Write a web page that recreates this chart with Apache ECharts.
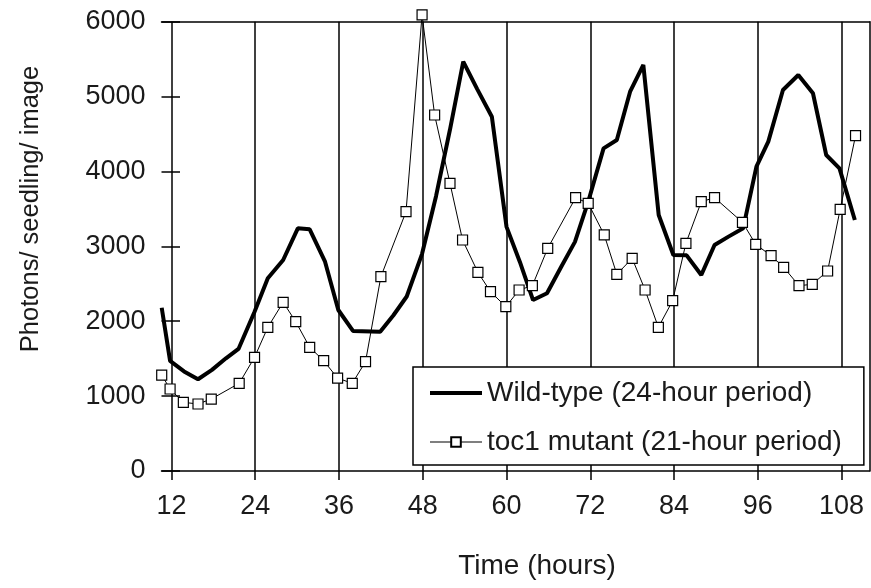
<!DOCTYPE html>
<html>
<head>
<meta charset="utf-8">
<script src="https://cdn.jsdelivr.net/npm/echarts@6/dist/echarts.min.js"></script>
<style>
  html, body { margin: 0; padding: 0; background: #fff; }
  #chart { width: 871px; height: 588px; }
</style>
</head>
<body>
<div id="chart"></div>
<script>
// ---- data ----
const wtName = 'Wild-type (24-hour period)';
const mutName = 'toc1 mutant (21-hour period)';

const wtHours = [10.6, 11.8, 13.8, 15.8, 17.8, 19.8, 21.6, 23.9, 25.8, 28.0, 30.1, 31.8, 34.0, 35.9,
  38.0, 41.9, 43.8, 45.7, 47.9, 49.9, 51.9, 53.8, 55.8, 57.9, 60.0, 61.9, 63.8, 65.8, 67.8, 69.8,
  71.7, 73.9, 75.8, 77.7, 79.6, 81.8, 83.9, 85.8, 87.9, 89.8, 91.8, 93.9, 95.8, 97.5, 99.6, 101.8,
  103.9, 105.8, 107.7, 109.9];
const wtValues = [2180, 1470, 1330, 1225, 1350, 1505, 1630, 2127, 2573, 2818, 3241, 3228, 2795, 2150,
  1870, 1860, 2080, 2330, 2900, 3670, 4560, 5466, 5100, 4730, 3260, 2795, 2283, 2373, 2720, 3060,
  3596, 4309, 4420, 5065, 5422, 3419, 2884, 2880, 2617, 3018, 3130, 3241, 4064, 4398, 5088, 5288,
  5044, 4220, 4042, 3352];

const mutHours = [10.6, 11.8, 13.7, 15.8, 17.7, 21.7, 23.9, 25.8, 28.0, 29.8, 31.8, 33.8, 35.8, 37.9,
  39.8, 42.0, 45.6, 47.9, 49.7, 51.9, 53.7, 55.9, 57.7, 59.9, 61.8, 63.7, 65.9, 69.9, 71.7, 74.0,
  75.8, 78.0, 79.85, 81.75, 83.8, 85.7, 87.9, 89.8, 93.8, 95.7, 97.9, 99.7, 101.9, 103.8, 106.0,
  107.8, 110.0];
const mutValues = [1280, 1095, 917, 895, 961, 1171, 1518, 1919, 2253, 1994, 1652, 1473, 1240, 1171,
  1460, 2595, 3463, 6090, 4754, 3842, 3085, 2653, 2395, 2194, 2417, 2475, 2974, 3650, 3575, 3152,
  2627, 2840, 2417, 1919, 2274, 3041, 3596, 3650, 3321, 3027, 2875, 2720, 2475, 2493, 2671,
  3495, 4478];

const xTicks = [12, 24, 36, 48, 60, 72, 84, 96, 108];
const xMin = 10.57, xMax = 112.0;
const yMin = 0, yMax = 6000, yStep = 1000;
const xTitle = 'Time (hours)';
const yTitle = 'Photons/ seedling/ image';

// ---- chart ----
const FONT = '"Liberation Sans", Arial, sans-serif';
const TXT = '#1a1a1a';
const chart = echarts.init(document.getElementById('chart'), null, { renderer: 'canvas' });

const pairs = (xs, ys) => xs.map((x, i) => [x, ys[i]]);

chart.setOption({
  animation: false,
  backgroundColor: '#fff',
  grid: { left: 161.5, right: 1.5, top: 21.7, bottom: 117, containLabel: false },
  xAxis: [{
    type: 'value', min: xMin, max: xMax, position: 'bottom',
    axisLine: { show: true, onZero: false, lineStyle: { color: '#000', width: 1.5 } },
    axisTick: { show: true, length: 9, customValues: xTicks, lineStyle: { color: '#000', width: 1.5 } },
    axisLabel: { customValues: xTicks, margin: 22, color: TXT, fontFamily: FONT, fontSize: 27 },
    splitLine: { show: false }
  }, {
    type: 'value', min: xMin, max: xMax, position: 'top',
    axisLine: { show: true, onZero: false, lineStyle: { color: '#000', width: 1.5 } },
    axisTick: { show: false }, axisLabel: { show: false }, splitLine: { show: false }
  }],
  yAxis: [{
    type: 'value', min: yMin, max: yMax, interval: yStep, position: 'left',
    axisLine: { show: false },
    axisTick: { show: true, inside: true, length: 18.5, lineStyle: { color: '#000', width: 1.5 } },
    axisLabel: { margin: 16, color: TXT, fontFamily: FONT, fontSize: 27, formatter: v => String(v) },
    splitLine: { show: false }
  }, {
    type: 'value', min: yMin, max: yMax, position: 'right',
    axisLine: { show: true, lineStyle: { color: '#000', width: 1.5 } },
    axisTick: { show: false }, axisLabel: { show: false }, splitLine: { show: false }
  }],
  legend: {
    z: 20,
    orient: 'vertical', left: 413, top: 367,
    backgroundColor: '#fff', borderColor: '#000', borderWidth: 1.5, borderRadius: 0,
    padding: [12, 22, 9, 15], itemGap: 21, itemWidth: 52, itemHeight: 12,
    textStyle: { color: TXT, fontFamily: FONT, fontSize: 28, lineHeight: 28 },
    data: [
      { name: wtName, itemStyle: { opacity: 0 }, lineStyle: { width: 4, color: '#000' } },
      { name: mutName, lineStyle: { width: 1.2, color: '#000' } }
    ]
  },
  graphic: [
    { type: 'text', x: 537, y: 566, style: { text: xTitle, fill: TXT, font: '28px ' + FONT, align: 'center', verticalAlign: 'middle' } },
    { type: 'text', x: 31, y: 209, rotation: Math.PI / 2, style: { text: yTitle, fill: TXT, font: '25.5px ' + FONT, align: 'center', verticalAlign: 'middle' } }
  ],
  series: [{
    name: 'grid-lines', type: 'line', data: [], silent: true, z: 1,
    markLine: {
      z: 1,
      silent: true, symbol: 'none', animation: false,
      label: { show: false },
      lineStyle: { color: '#000', width: 1.5, type: 'solid' },
      data: xTicks.map(h => ({ xAxis: h }))
    }
  }, {
    name: wtName, type: 'line', data: pairs(wtHours, wtValues),
    symbol: 'none', clip: false,
    lineStyle: { color: '#000', width: 4 }, itemStyle: { color: '#000' }, z: 3
  }, {
    name: mutName, type: 'line', data: pairs(mutHours, mutValues),
    symbol: 'rect', symbolSize: 10, clip: false,
    lineStyle: { color: '#000', width: 1 },
    itemStyle: { color: '#fff', borderColor: '#000', borderWidth: 1.2 }, z: 4
  }]
});
</script>
</body>
</html>
